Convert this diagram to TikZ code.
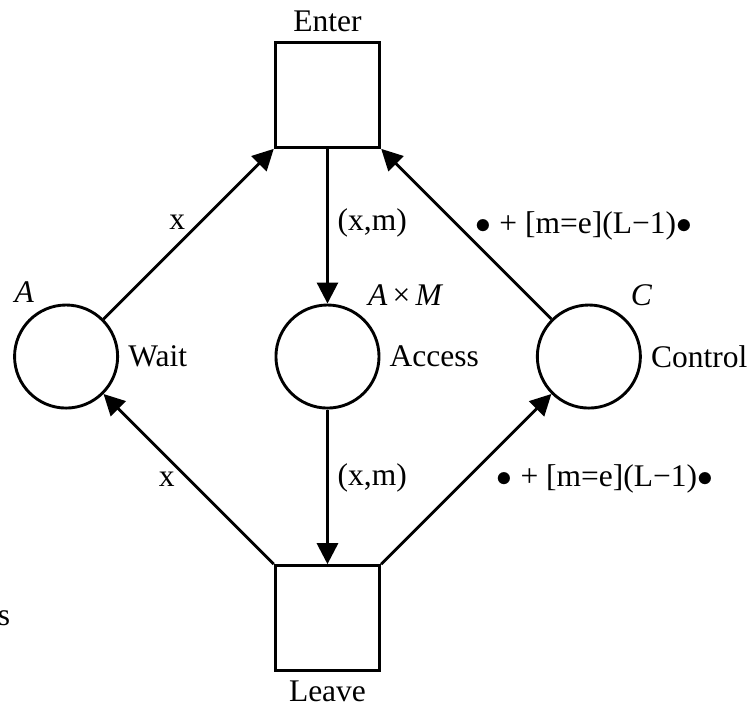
\documentclass[tikz,border=0pt]{standalone}
\usepackage{fontspec}
\setmainfont{Liberation Serif}
\usepackage{tikz}
\usetikzlibrary{positioning, arrows.meta}
\tikzstyle{place} = [circle, draw, line width=1.1pt, minimum size=1.38cm, inner sep=0pt]
\tikzstyle{transition} = [rectangle, draw, line width=1.1pt, minimum size=1.4cm, inner sep=0pt]
\tikzstyle{netarrow} = [line width=1.1pt, -{Triangle[length=8pt,width=8pt]}]

\begin{document}
\begin{tikzpicture}[node distance=3.5cm, font=\fontsize{12}{14}\selectfont]
        \useasboundingbox (-4.385,-4.800) rectangle (5.671,4.774);
        \node[place, label={[label distance=3pt, xshift=-5pt]43:\textit{A}\,×\,\textit{M}}, label=right:Access] (access) {};
        \node[place, left of=access, label={[xshift=2pt]122:\textit{A}}, label=right:Wait] (wait) {};
        \node[place, right of=access, label=52:\textit{C}, label=right:Control] (control) {};
        \node[transition, above of=access, label=above:Enter] (enter) {};
        \node[transition, below of=access, label=below:Leave] (leave) {};
        \node[left of=leave, node distance=4.33cm] (stub) {s};
        \draw[netarrow] (wait) -- node[pos=0.57, left, xshift=-2pt] {x} (enter);
        \draw[netarrow] (enter) -- node[pos=0.48, right] {(x,m)} (access);
        \draw[netarrow] (control) -- node[pos=0.55, right, xshift=3pt] {$\bullet$ + [m=e](L−1)$\bullet$} (enter);
        \draw[netarrow] (access) -- node[pos=0.44, right] {(x,m)} (leave);
        \draw[netarrow] (leave) -- node[pos=0.5, left, xshift=-1.5pt] {x} (wait);
        \draw[netarrow] (leave) -- node[pos=0.5, right, xshift=7.8pt] {$\bullet$ + [m=e](L−1)$\bullet$} (control);
      \end{tikzpicture}
\end{document}
